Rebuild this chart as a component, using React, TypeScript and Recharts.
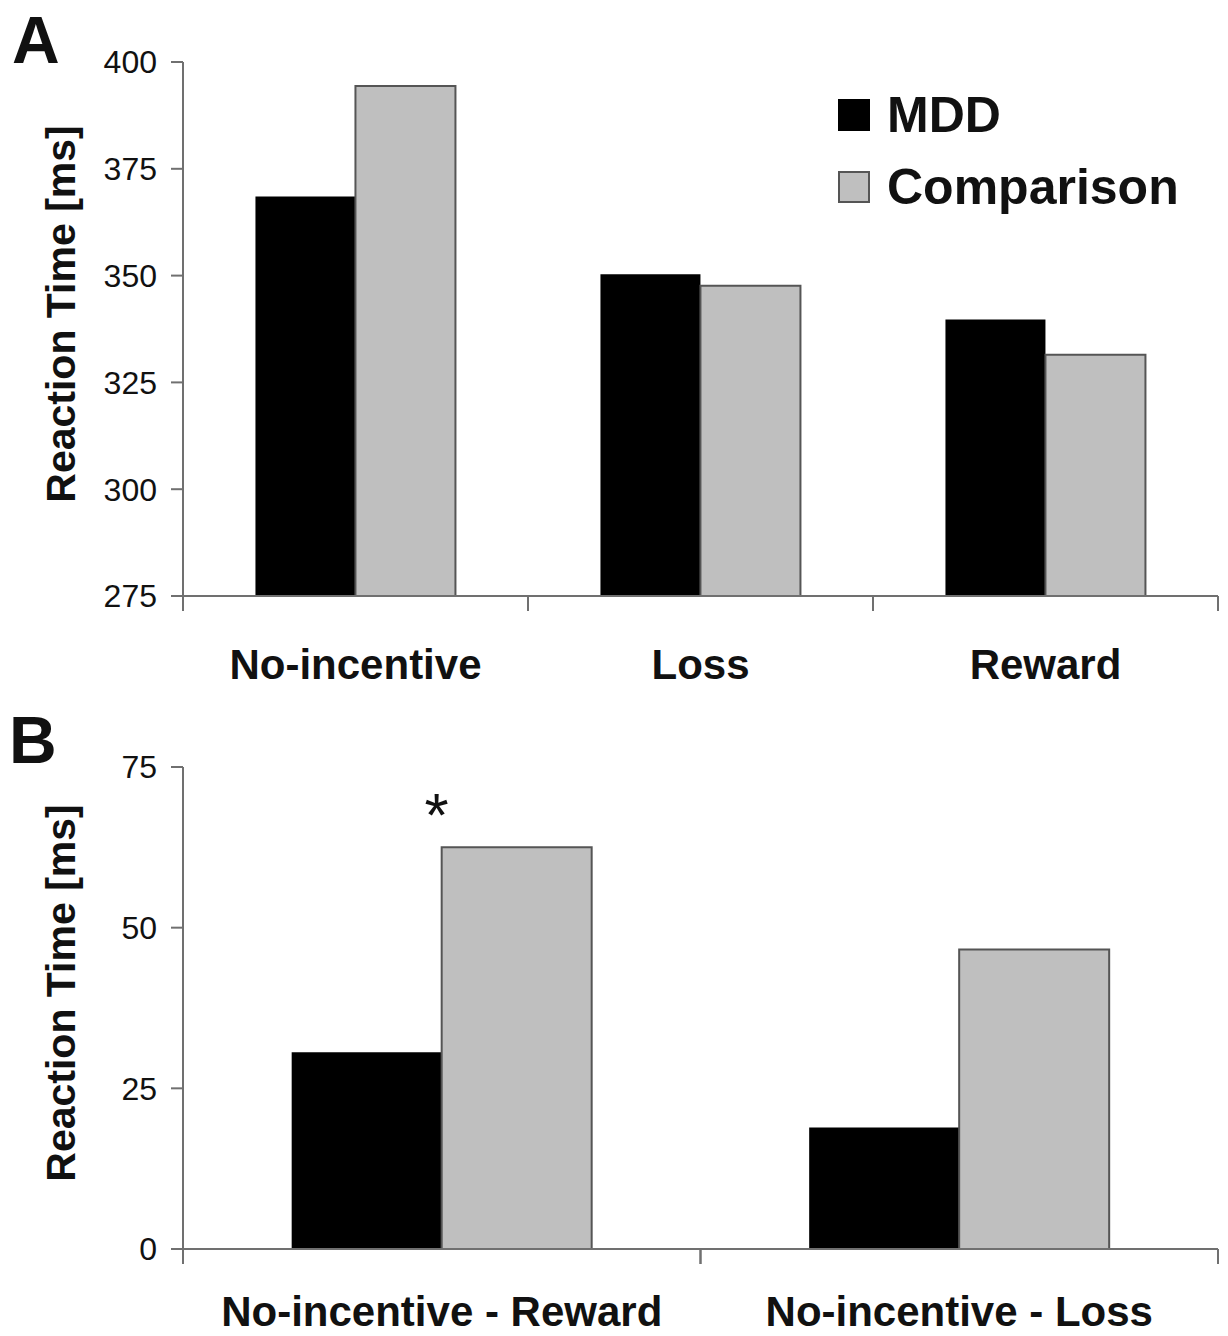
import { BarChart, Bar, XAxis, YAxis, Legend, LabelList } from "recharts";

const FONT = '"Liberation Sans", Arial, Helvetica, sans-serif';
const AXIS = "#707070";
const INK = "#111";

// Panel A – mean reaction time per incentive condition
const CONDITIONS = ["No-incentive", "Loss", "Reward"];
const MDD_RT = [368.5, 350.3, 339.7];
const COMPARISON_RT = [394.4, 347.6, 331.5];
const RT_TICKS = [275, 300, 325, 350, 375, 400];

// Panel B – no-incentive minus incentive differences
const CONTRASTS = ["No-incentive - Reward", "No-incentive - Loss"];
const MDD_DIFF = [30.6, 18.9];
const COMPARISON_DIFF = [62.5, 46.6];
const DIFF_TICKS = [0, 25, 50, 75];
const DIFF_SIG = ["*", ""];

const SERIES_KEYS = ["mdd", "comp"];
const SERIES: Record<string, { name: string; fill: string; stroke: string }> = {
  mdd: { name: "MDD", fill: "#000", stroke: "#000" },
  comp: { name: "Comparison", fill: "#bfbfbf", stroke: "#555" },
};

const CHART_W = 1220;
const Y_W = 175;
const RIGHT = 10;
const PLOT_W = CHART_W - Y_W - RIGHT;

// category label in the middle, tick marks at the band edges
function CategoryTick(props: any) {
  const { x, y, payload, band, fontSize, labelDy } = props;
  const h = band / 2;
  return (
    <g>
      <line x1={x - h} x2={x - h} y1={y} y2={y + 15} stroke={AXIS} strokeWidth={2} />
      <line x1={x + h} x2={x + h} y1={y} y2={y + 15} stroke={AXIS} strokeWidth={2} />
      <text x={x} y={y + labelDy} textAnchor="middle" fontSize={fontSize} fontWeight={700} fontFamily={FONT} fill={INK}>
        {payload.value}
      </text>
    </g>
  );
}

function yTitle(props: any) {
  const vb = props.viewBox;
  const cx = vb.x + 67;
  const cy = vb.y + vb.height / 2 - 15;
  return (
    <text x={cx} y={cy} transform={`rotate(-90, ${cx}, ${cy})`} textAnchor="middle"
      fontSize={41} fontWeight={700} fontFamily={FONT} fill={INK}>
      Reaction Time [ms]
    </text>
  );
}

function SigMark(props: any) {
  const { x, y, value } = props;
  if (!value) return null;
  return (
    <text x={x - 5} y={y - 11} textAnchor="middle" fontSize={62} fontFamily={FONT} fill={INK}>{value}</text>
  );
}

function LegendBox(props: any) {
  const keys = (props.payload ?? []).map((it: any) => it.dataKey);
  const ordered = SERIES_KEYS.filter((k) => keys.includes(k));
  return (
    <div style={{ fontFamily: FONT }}>
      {ordered.map((k) => {
        const s = SERIES[k];
        return (
          <div key={k} style={{ display: "flex", alignItems: "center", height: 72 }}>
            <div style={{ width: 32, height: 32, boxSizing: "border-box", background: s.fill, border: `2px solid ${s.stroke}` }} />
            <span style={{ marginLeft: 17, fontSize: 50, fontWeight: 700, color: INK, lineHeight: 1 }}>{s.name}</span>
          </div>
        );
      })}
    </div>
  );
}

const letterStyle = (left: number): React.CSSProperties => ({
  position: "absolute", left, top: -1, fontFamily: FONT, fontSize: 66, fontWeight: 700, lineHeight: "66px", color: INK,
});

export default function App() {
  const rowsA = CONDITIONS.map((c, i) => ({ cond: c, mdd: MDD_RT[i], comp: COMPARISON_RT[i] }));
  const rowsB = CONTRASTS.map((c, i) => ({ cond: c, mdd: MDD_DIFF[i], comp: COMPARISON_DIFF[i], sig: DIFF_SIG[i] }));

  return (
    <div style={{ width: CHART_W }}>
      <div style={{ position: "relative", width: CHART_W, height: 700 }}>
        <BarChart width={CHART_W} height={700} data={rowsA} margin={{ top: 54, right: RIGHT, left: 0, bottom: 0 }}
          barGap={0} barCategoryGap="21%">
          <XAxis dataKey="cond" height={112} interval={0} tickSize={0} tickMargin={0} tickLine={false}
            axisLine={{ stroke: AXIS, strokeWidth: 2 }}
            tick={<CategoryTick band={PLOT_W / CONDITIONS.length} fontSize={42} labelDy={83} />} />
          <YAxis width={Y_W} domain={[275, 400]} ticks={RT_TICKS} allowDataOverflow tickSize={12} tickMargin={14}
            axisLine={{ stroke: AXIS, strokeWidth: 2 }} tickLine={{ stroke: AXIS, strokeWidth: 2 }}
            tick={{ fontSize: 32, fill: INK, fontFamily: FONT }} label={yTitle} />
          <Legend layout="vertical" align="center" verticalAlign="middle" content={<LegendBox />}
            wrapperStyle={{ left: 830, top: 71, width: 380 }} />
          <Bar dataKey="mdd" name="MDD" fill={SERIES.mdd.fill} isAnimationActive={false} />
          <Bar dataKey="comp" name="Comparison" fill={SERIES.comp.fill} stroke={SERIES.comp.stroke} strokeWidth={2}
            isAnimationActive={false} />
        </BarChart>
        <div style={letterStyle(4)}>A</div>
      </div>
      <div style={{ position: "relative", width: CHART_W, height: 628 }}>
        <BarChart width={CHART_W} height={628} data={rowsB} margin={{ top: 59, right: RIGHT, left: 0, bottom: 0 }}
          barGap={0} barCategoryGap="21%">
          <XAxis dataKey="cond" height={87} interval={0} tickSize={0} tickMargin={0} tickLine={false}
            axisLine={{ stroke: AXIS, strokeWidth: 2 }}
            tick={<CategoryTick band={PLOT_W / CONTRASTS.length} fontSize={42} labelDy={77} />} />
          <YAxis width={Y_W} domain={[0, 75]} ticks={DIFF_TICKS} tickSize={12} tickMargin={14}
            axisLine={{ stroke: AXIS, strokeWidth: 2 }} tickLine={{ stroke: AXIS, strokeWidth: 2 }}
            tick={{ fontSize: 32, fill: INK, fontFamily: FONT }} label={yTitle} />
          <Bar dataKey="mdd" name="MDD" fill={SERIES.mdd.fill} isAnimationActive={false} />
          <Bar dataKey="comp" name="Comparison" fill={SERIES.comp.fill} stroke={SERIES.comp.stroke} strokeWidth={2}
            isAnimationActive={false}>
            <LabelList dataKey="sig" content={<SigMark />} />
          </Bar>
        </BarChart>
        <div style={letterStyle(1)}>B</div>
      </div>
    </div>
  );
}
